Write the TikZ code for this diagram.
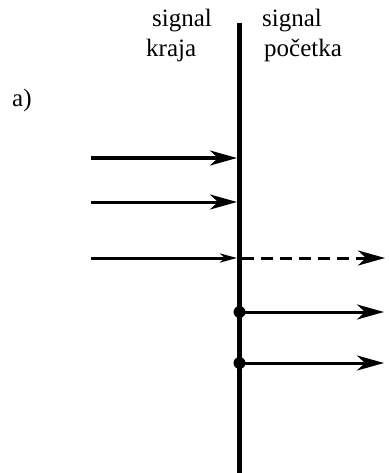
\documentclass[tikz,border=0pt]{standalone}
\usepackage{fontspec}
\setmainfont{Liberation Serif}
\usetikzlibrary{arrows.meta}

\begin{document}
\begin{tikzpicture}[x=1pt,y=-1pt,
  arr/.style={line width=3pt,-{Stealth[length=27pt,width=15pt,inset=8pt]}},
  smallarr/.style={line width=3pt,-{Stealth[length=17pt,width=9pt,inset=5pt]}},
  lbl/.style={anchor=base west,inner sep=0pt,font=\fontsize{25}{30}\selectfont}]
\tikzstyle{every node}+=[inner sep=0pt]
\useasboundingbox (0,0) rectangle (388,473);
\coordinate (top) at (239.5,23);
\coordinate (bot) at (239.5,473);
\draw [line width=5.5pt] (top) -- (bot);
\node [lbl] (sigL) at (152,27) {signal};
\node [lbl] (kraja) at (146,57) {kraja};
\node [lbl] (sigR) at (262,27) {signal};
\node [lbl] (pocetka) at (264,57) {početka};
\node [lbl] (a) at (12,107) {a)};
\coordinate (in1) at (91,158);
\coordinate (hit1) at (237,158);
\coordinate (in2) at (91,202);
\coordinate (hit2) at (237,202);
\coordinate (in3) at (91,258);
\coordinate (hit3) at (237,258);
\coordinate (out3) at (385,258);
\draw [arr] (in1) -- (hit1);
\draw [arr] (in2) -- (hit2);
\draw [smallarr] (in3) -- (hit3);
\draw [arr,dash pattern=on 12pt off 7pt] (242,258) -- (out3);
\node [circle,fill=black,minimum size=12pt] (dot1) at (239.5,312) {};
\node [circle,fill=black,minimum size=12pt] (dot2) at (239.5,363) {};
\coordinate (out1) at (384,312);
\coordinate (out2) at (384,363);
\draw [arr] (dot1.center) -- (out1);
\draw [arr] (dot2.center) -- (out2);
\end{tikzpicture}
\end{document}
